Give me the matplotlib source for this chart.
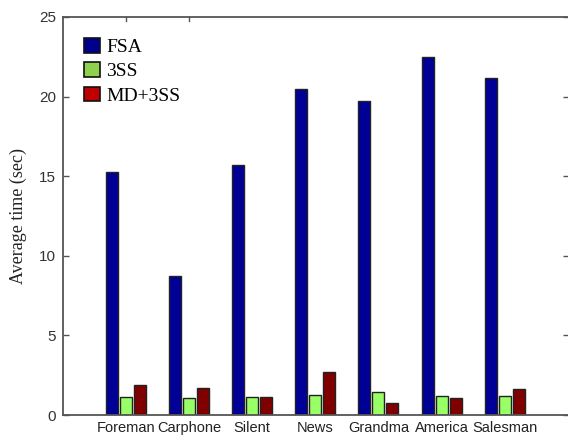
import matplotlib
matplotlib.use("Agg")
import matplotlib.pyplot as plt
from matplotlib.patches import Patch
import numpy as np

categories = ["Foreman", "Carphone", "Silent", "News", "Grandma", "America", "Salesman"]
series_names = ["FSA", "3SS", "MD+3SS"]
fsa = [15.25, 8.73, 15.68, 20.5, 19.72, 22.5, 21.17]
ss3 = [1.11, 1.05, 1.11, 1.28, 1.42, 1.19, 1.19]
md_ss3 = [1.86, 1.72, 1.11, 2.68, 0.75, 1.07, 1.65]
y_ticks = [0, 5, 10, 15, 20, 25]

bar_colors = ["#000096", "#99FF66", "#800000"]
legend_colors = ["#00008F", "#8ED14F", "#C00000"]

fig = plt.figure(figsize=(5.68, 4.36), dpi=100)
ax = fig.add_axes([63 / 568, 21 / 436, 506 / 568, 398 / 436])

x = np.arange(1, len(categories) + 1)
width = 0.19
offsets = [-0.222, 0.0, 0.222]
for vals, off, col in zip([fsa, ss3, md_ss3], offsets, bar_colors):
    ax.bar(x + off, vals, width=width, color=col, edgecolor="#222222", linewidth=1.0, zorder=2)

ax.set_xlim(0, 8.02)
ax.set_ylim(0, 25)
ax.set_yticks(y_ticks)
ax.set_yticklabels([str(t) for t in y_ticks], fontfamily="Liberation Sans", fontsize=11, color="#333333")
ax.set_xticks(x)
ax.set_xticklabels(categories, fontfamily="Liberation Sans", fontsize=10.5, color="#222222")

ax.tick_params(axis="y", direction="in", length=4, width=1, color="#555555", right=True, pad=5)
ax.tick_params(axis="x", direction="in", length=4, width=1, color="#555555", pad=4)

for side in ["left", "bottom", "top"]:
    ax.spines[side].set_color("#555555")
    ax.spines[side].set_linewidth(1.3)
ax.spines["right"].set_visible(False)

# short top ticks over the first two groups
for xv in x[:2]:
    ax.plot([xv, xv], [25, 25 - 0.25], color="#555555", lw=1, clip_on=False, zorder=3)

ax.set_ylabel("Average time (sec)", fontfamily="Liberation Serif", fontsize=13, color="#222222", labelpad=9)

handles = [Patch(facecolor=c, edgecolor="#111111", linewidth=1.2) for c in legend_colors]
leg = ax.legend(handles, series_names, loc="upper left", bbox_to_anchor=(0.015, 0.982),
                frameon=False, prop={"family": "Liberation Serif", "size": 14},
                handlelength=0.8, handleheight=0.8, handletextpad=0.35,
                labelspacing=0.32, borderaxespad=0.3)

fig.savefig("out.png", dpi=100)
